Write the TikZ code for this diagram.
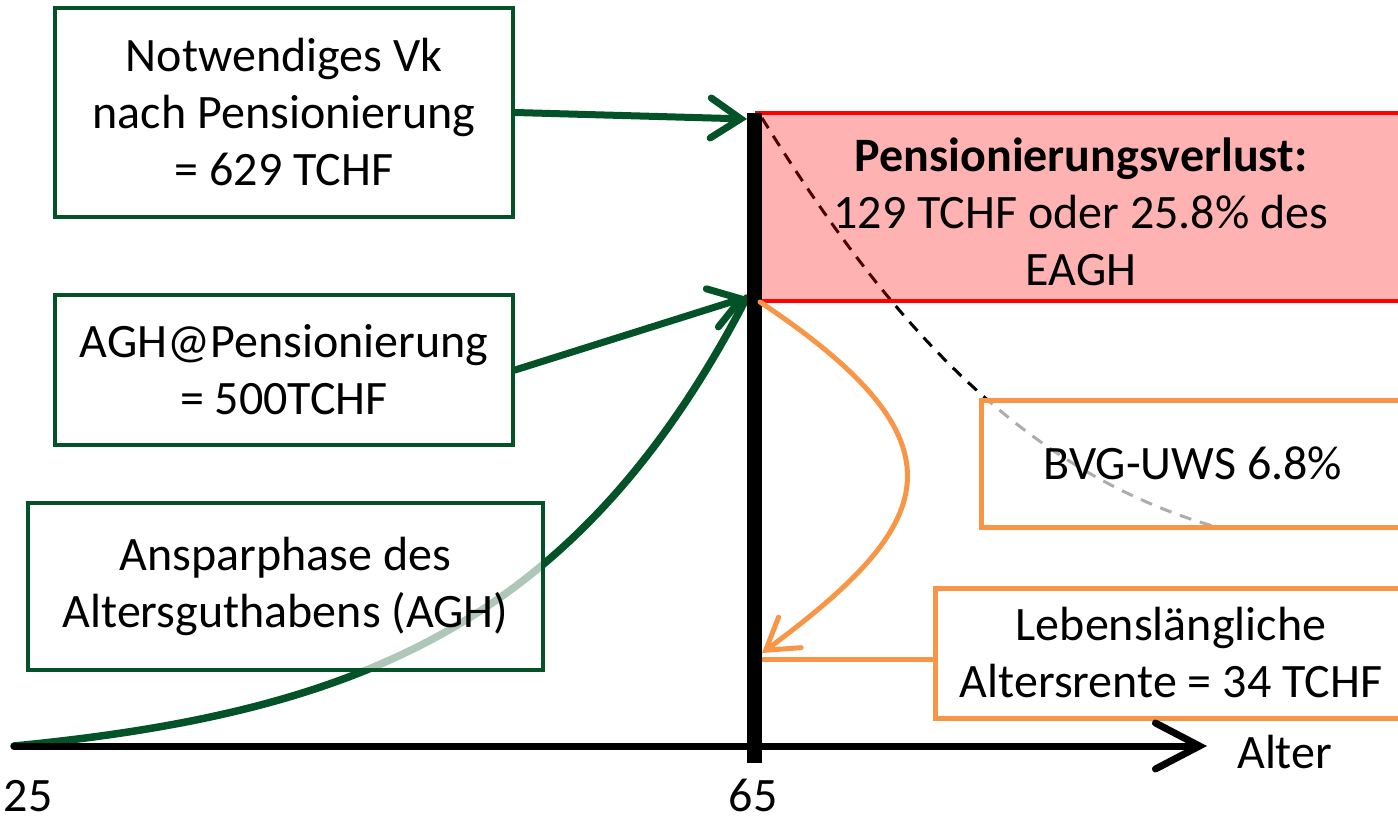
\documentclass[tikz,border=0pt]{standalone}
\usepackage{fontspec}
\setmainfont{Carlito}
\usetikzlibrary{arrows.meta}
\definecolor{dgreen}{RGB}{4,82,40}
\definecolor{orng}{RGB}{247,150,70}
\definecolor{rred}{RGB}{255,0,0}
\begin{document}
\begin{tikzpicture}[x=1pt,y=-1pt,
  txt/.style={font=\fontsize{48}{57}\selectfont, align=center, inner sep=0pt},
  gbox/.style={txt, draw=dgreen, line width=4pt, fill=white, fill opacity=0.68, text opacity=1, rectangle},
  obox/.style={txt, draw=orng, line width=5pt, fill=white, fill opacity=0.68, text opacity=1, rectangle},
  garrow/.style={draw=dgreen, line width=7pt, line cap=round, -{Straight Barb[length=30pt,width=40pt,line cap=round]}},
  oarrow/.style={draw=orng, line width=5pt, line cap=round, -{Straight Barb[length=30pt,width=38pt,line cap=round]}},
  dashcurve/.style={draw=black, line width=3pt, dash pattern=on 12pt off 9pt}
]
\useasboundingbox (0,0) rectangle (1398,821);

% key coordinates
\coordinate (origin) at (14,746);
\coordinate (axisend) at (1207,746);
\coordinate (bartop) at (754.5,113);
\coordinate (barbot) at (754.5,763);
\coordinate (p629) at (747,119);
\coordinate (p500) at (747,297);
\coordinate (rente) at (762,653);
\coordinate (ostart) at (760,302);
\coordinate (dstart) at (762,118);
\coordinate (dend) at (1220,528);

% accumulation curve
\draw[dgreen, line width=7.5pt, line cap=round]
  plot[domain=0:1, samples=80, smooth] ({14+733*\x},{746-449*(exp(3*\x)-1)/19.0855});

% dashed curve (under boxes)
\draw[dashcurve] (dstart) .. controls (875,300) and (1010,470) .. (dend);

% red loss box
\node[txt, rectangle, fill=rred, fill opacity=0.3, text opacity=1,
      minimum width=652pt, minimum height=188pt] (loss) at (1081,207) {};
\draw[rred, line width=4pt] (755,113) -- (1410,113) (755,301) -- (1410,301);
\node[txt] (losstxt) at (1081,212) {\textbf{Pensionierungsverlust:}\\129 TCHF oder 25.8\% des\\EAGH};

% green boxes
\node[gbox, minimum width=458pt, minimum height=209pt] (nv) at (284,112.5)
  {Notwendiges Vk\\nach Pensionierung\\= 629 TCHF};
\node[gbox, minimum width=458pt, minimum height=150pt] (agh) at (284,370)
  {AGH@Pensionierung\\= 500TCHF};
\node[gbox, minimum width=515pt, minimum height=167pt] (ansp) at (285.5,586.5)
  {Ansparphase des\\Altersguthabens (AGH)};

% orange boxes
\node[obox, minimum width=424pt, minimum height=127pt] (bvg) at (1193,463.5)
  {BVG-UWS 6.8\%};
\node[obox, minimum width=472pt, minimum height=130pt] (leb) at (1171,653)
  {Lebensl\"angliche\\Altersrente = 34 TCHF};

% axis
\draw[line width=7pt, line cap=round, -{Straight Barb[length=44pt,width=46pt,line cap=round]}] (origin) -- (axisend);
% vertical bar
\draw[black, line width=15pt] (bartop) -- (barbot);

% green arrows
\draw[garrow] (nv.east) -- (p629);
\draw[garrow] (agh.east) -- (p500);

% orange arrows
\draw[oarrow] (ostart) .. controls (975,445) and (935,525) .. (rente);
\draw[orng, line width=5pt] (leb.west |- 0,659) -- (762,659);

% labels
\node[txt, anchor=base, text depth=0pt] (l25) at (28,811) {25};
\node[txt, anchor=base, text depth=0pt] (l65) at (753,811) {65};
\node[txt, anchor=base west] (alter) at (1237,768) {Alter};
\end{tikzpicture}
\end{document}
